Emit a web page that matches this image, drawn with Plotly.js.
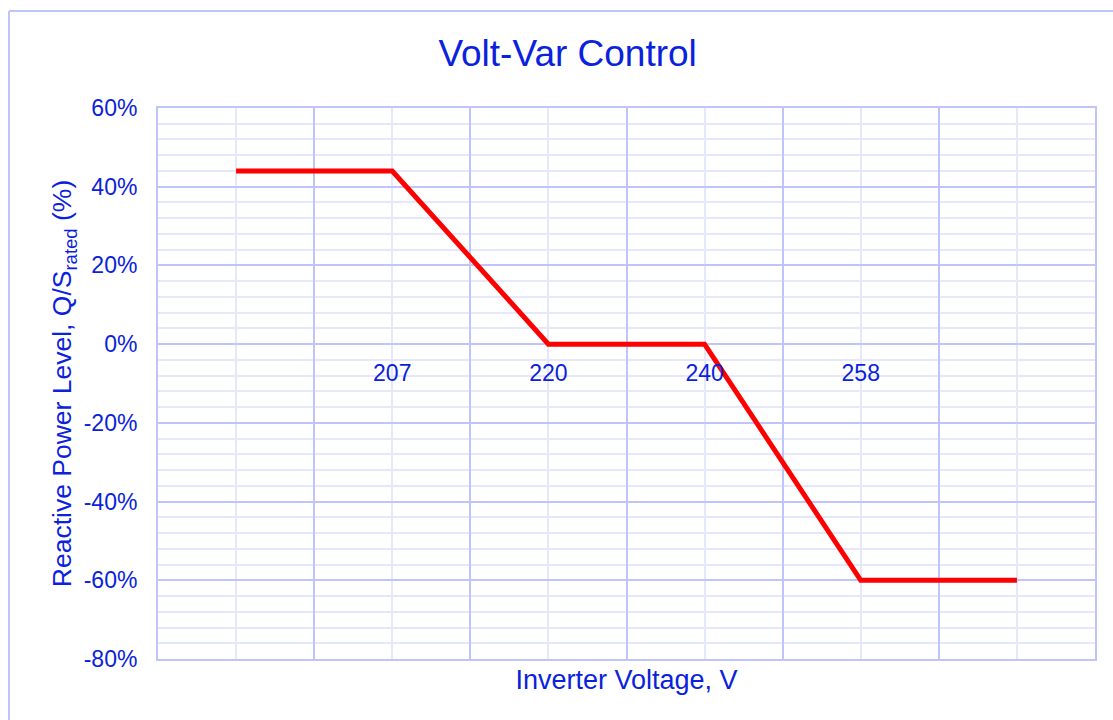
<!DOCTYPE html>
<html>
<head>
<meta charset="utf-8">
<script src="https://cdn.plot.ly/plotly-3.0.1.min.js"></script>
<style>html,body{margin:0;padding:0;background:#fff;}#chart{width:1113px;height:720px;}</style>
</head>
<body>
<div id="chart"></div>
<script>
// Data
var pointIndex = [0, 1, 2, 3, 4, 5];
var voltageLabels = ["", "207", "220", "240", "258", ""];
var reactivePower = [44, 44, 0, 0, -60, -60];
var yTicks = [-80, -60, -40, -20, 0, 20, 40, 60];

var labelVals = [], labelText = [];
pointIndex.forEach(function (p, i) {
  if (voltageLabels[i] !== "") { labelVals.push(p); labelText.push(voltageLabels[i]); }
});

var textBlue = '#0a22dc';
var majorGrid = '#bfc5fa';
var minorGrid = '#e5e7fd';
var fontFam = '"Liberation Sans", Arial, sans-serif';

var trace = {
  x: pointIndex,
  y: reactivePower,
  type: 'scatter',
  mode: 'lines',
  line: {color: '#ff0000', width: 5},
  hoverinfo: 'x+y',
  showlegend: false
};
var labelTrace = {
  x: pointIndex,
  y: reactivePower,
  xaxis: 'x2',
  type: 'scatter',
  mode: 'lines',
  line: {color: 'rgba(0,0,0,0)', width: 0},
  hoverinfo: 'skip',
  showlegend: false
};

var layout = {
  width: 1113,
  height: 720,
  margin: {l: 158, r: 18, t: 108, b: 61},
  paper_bgcolor: '#ffffff',
  plot_bgcolor: '#ffffff',
  font: {family: fontFam, color: textBlue, size: 23},
  title: {
    text: 'Volt-Var Control',
    font: {family: fontFam, size: 37, color: textBlue},
    x: 0.51, xanchor: 'center',
    y: 0.926, yanchor: 'middle'
  },
  xaxis: {
    range: [-0.5, 5.5],
    tickmode: 'array',
    tickvals: [0.5, 1.5, 2.5, 3.5, 4.5],
    showticklabels: false,
    ticks: '',
    showgrid: true,
    gridcolor: majorGrid,
    gridwidth: 2,
    minor: {tickmode: 'array', tickvals: pointIndex, showgrid: true, gridcolor: minorGrid, gridwidth: 2, ticks: ''},
    zeroline: false,
    showline: true,
    linecolor: majorGrid,
    linewidth: 2,
    mirror: true,
    title: {text: 'Inverter Voltage, V', font: {family: fontFam, size: 27, color: textBlue}, standoff: 10}
  },
  xaxis2: {
    overlaying: 'x',
    anchor: 'free',
    position: 80 / 140,
    side: 'bottom',
    range: [-0.5, 5.5],
    tickmode: 'array',
    tickvals: labelVals,
    ticktext: labelText,
    ticks: '',
    ticklabelstandoff: 13,
    tickfont: {family: fontFam, size: 23, color: textBlue},
    showgrid: false,
    zeroline: false,
    showline: false
  },
  yaxis: {
    range: [-80, 60],
    tickmode: 'array',
    tickvals: yTicks,
    ticktext: yTicks.map(function (v) { return v + '%'; }),
    ticks: '',
    ticklabelstandoff: 14,
    tickfont: {family: fontFam, size: 23, color: textBlue},
    showgrid: true,
    gridcolor: majorGrid,
    gridwidth: 2,
    minor: {dtick: 4, tick0: 0, showgrid: true, gridcolor: minorGrid, gridwidth: 2, ticks: ''},
    zeroline: false,
    showline: true,
    linecolor: majorGrid,
    linewidth: 2,
    mirror: true,
    title: {text: 'Reactive Power Level, Q/S<sub>rated</sub> (%)', font: {family: fontFam, size: 26.5, color: textBlue}, standoff: 4}
  },
  shapes: [
    {type: 'line', xref: 'paper', yref: 'paper', x0: (9 - 158) / 937, x1: 1.2, y0: (659 - 11) / 551, y1: (659 - 11) / 551, line: {color: majorGrid, width: 2}},
    {type: 'line', xref: 'paper', yref: 'paper', x0: (9 - 158) / 937, x1: (9 - 158) / 937, y0: (659 - 11) / 551, y1: -0.3, line: {color: majorGrid, width: 2}}
  ]
};

Plotly.newPlot('chart', [trace, labelTrace], layout, {displayModeBar: false, staticPlot: true});
</script>
</body>
</html>
